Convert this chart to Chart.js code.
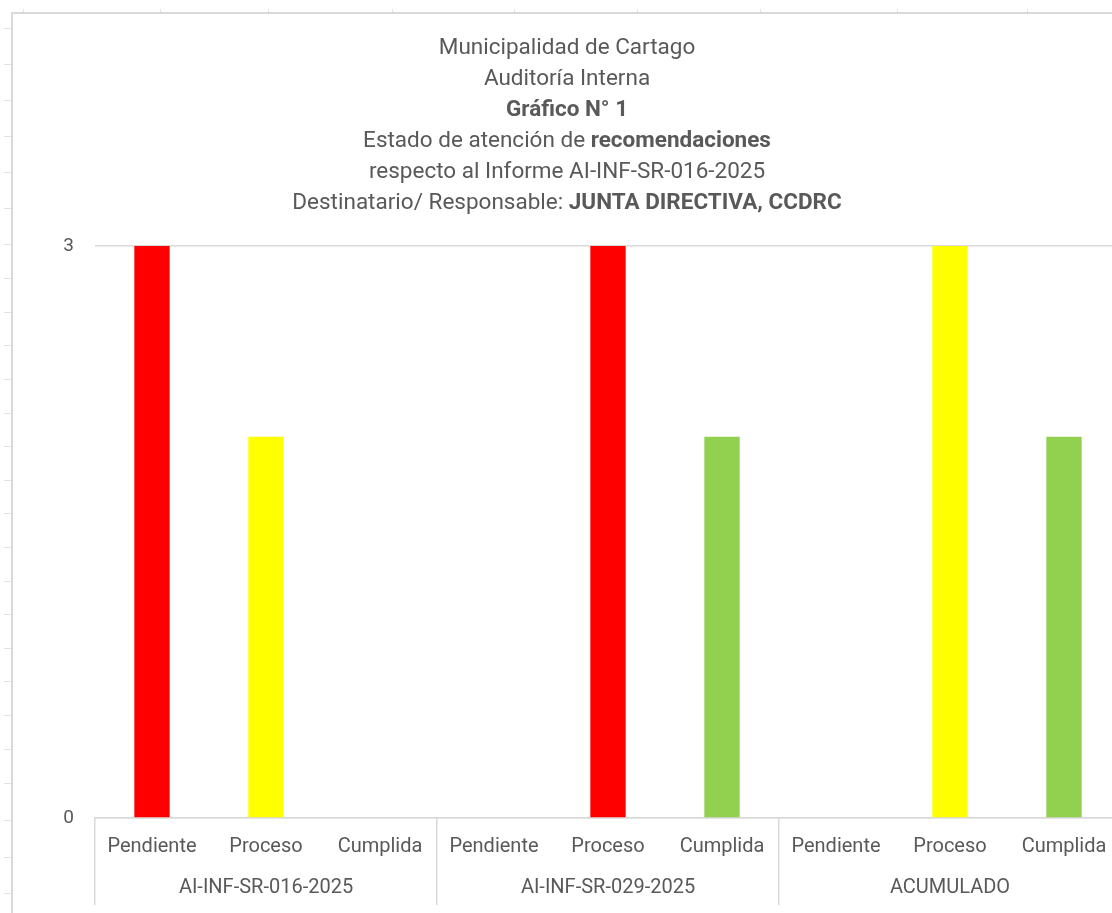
<!DOCTYPE html>
<html>
<head>
<meta charset="utf-8">
<script src="https://cdn.jsdelivr.net/npm/chart.js@4.4.1/dist/chart.umd.min.js"></script>
<style>
  html, body { margin:0; padding:0; background:#fff; overflow:hidden; }
  #chart { display:block; }
</style>
</head>
<body>
<canvas id="chart" width="1125" height="913"></canvas>
<script>
// data
const categories = ['Pendiente','Proceso','Cumplida','Pendiente','Proceso','Cumplida','Pendiente','Proceso','Cumplida'];
const groups = ['AI-INF-SR-016-2025','AI-INF-SR-029-2025','ACUMULADO'];
const values = [3, 2, 0, 0, 3, 2, 0, 3, 2];
const barColors = ['#FF0000','#FFFF00','#92D050','#FF0000','#FF0000','#92D050','#FF0000','#FFFF00','#92D050'];
const yTicks = [0, 3];

const titleLines = [
  [{t:'Municipalidad de Cartago'}],
  [{t:'Auditoría Interna'}],
  [{t:'Gráfico N° 1', b:true}],
  [{t:'Estado de atención de '},{t:'recomendaciones', b:true}],
  [{t:'respecto al Informe AI-INF-SR-016-2025'}],
  [{t:'Destinatario/ Responsable: '},{t:'JUNTA DIRECTIVA, CCDRC', b:true}]
];

const TXT = '#595959';
const LINE = '#d9d9d9';
const FONT = 'Roboto, "Noto Sans", sans-serif';

// spreadsheet backdrop + chart frame
const sheetPlugin = {
  id: 'sheet',
  beforeDraw(chart){
    const c = chart.ctx;
    c.save();
    c.fillStyle = '#fff'; c.fillRect(0,0,chart.width,chart.height);
    c.strokeStyle = '#e3e3e3'; c.lineWidth = 1;
    [28,64,100,136,172,208,244,278,312,345,379,413,446,480,513,547,581,614,648,681,715,749,783,820,857,893].forEach(y=>{
      c.beginPath(); c.moveTo(4,y+0.5); c.lineTo(12,y+0.5); c.stroke();
    });
    [23,160,268,392,514,637,760,897,1027].forEach(x=>{
      c.beginPath(); c.moveTo(x+0.5,9); c.lineTo(x+0.5,13); c.stroke();
    });
    c.strokeStyle = LINE; c.lineWidth = 2;
    c.beginPath(); c.moveTo(12,chart.height); c.lineTo(12,13); c.lineTo(chart.width,13); c.stroke();
    c.restore();
  }
};

// title with mixed bold runs
const titlePlugin = {
  id: 'richTitle',
  afterDraw(chart){
    const c = chart.ctx;
    const cx = 567, y0 = 48, lh = 31, size = 22.5;
    c.save();
    c.fillStyle = TXT; c.textBaseline = 'middle'; c.textAlign = 'left';
    titleLines.forEach((segs, i)=>{
      let w = 0;
      segs.forEach(s=>{ c.font = (s.b?'bold ':'')+size+'px '+FONT; s.w = c.measureText(s.t).width; w += s.w; });
      let x = cx - w/2;
      segs.forEach(s=>{ c.font = (s.b?'bold ':'')+size+'px '+FONT; c.fillText(s.t, x, y0 + i*lh); x += s.w; });
    });
    c.restore();
  }
};

new Chart(document.getElementById('chart'), {
  type: 'bar',
  data: {
    labels: categories,
    datasets: [{ data: values, backgroundColor: barColors, borderWidth: 0, categoryPercentage: 0.31, barPercentage: 1 }]
  },
  options: {
    responsive: false,
    animation: false,
    layout: { padding: { top: 246, left: 0, right: 4, bottom: 0 } },
    plugins: { legend: { display: false }, tooltip: { enabled: false }, title: { display: false } },
    scales: {
      y: {
        min: 0, max: 3,
        afterFit(s){ s.width = 95; },
        afterBuildTicks(s){ s.ticks = yTicks.map(v=>({ value: v })); },
        border: { display: false },
        grid: { color: LINE, lineWidth: 1.5, drawTicks: false },
        ticks: { color: TXT, padding: 21, font: { family: FONT, size: 19 } }
      },
      x: {
        type: 'category', position: 'bottom', weight: 0, offset: true,
        afterFit(s){ s.height = 48; },
        border: { display: true, color: LINE, width: 1.5 },
        grid: { offset: true, drawOnChartArea: false, drawTicks: true, tickLength: 48, lineWidth: 1.5,
                color: (ctx)=> (ctx.index % 3 === 0 ? LINE : 'rgba(0,0,0,0)') },
        ticks: { color: TXT, padding: -31, maxRotation: 0, autoSkip: false, font: { family: FONT, size: 20 } }
      },
      x2: {
        type: 'category', position: 'bottom', weight: 1, offset: true, labels: groups,
        afterFit(s){ s.height = 47; },
        border: { display: false },
        grid: { offset: true, drawOnChartArea: false, drawTicks: true, tickLength: 39, lineWidth: 1.5, color: LINE },
        ticks: { color: TXT, padding: -29, maxRotation: 0, autoSkip: false, font: { family: FONT, size: 20 } }
      }
    }
  },
  plugins: [sheetPlugin, titlePlugin]
});
</script>
</body>
</html>
